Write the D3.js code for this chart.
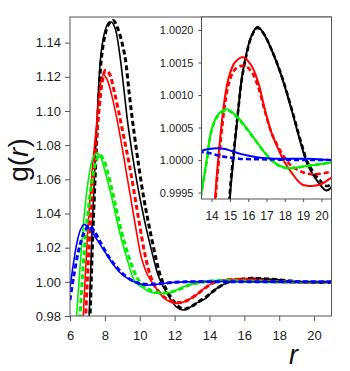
<!DOCTYPE html>
<html>
<head>
<meta charset="utf-8">
<script src="https://cdn.jsdelivr.net/npm/d3@7"></script>
<style>
  body { margin: 0; background: #fff; }
  text { font-family: Arial, "Liberation Sans", sans-serif; }
</style>
</head>
<body>
<div id="chart"></div>
<script>
// g(r) curves as [r, g] pairs
const blackSolid = [[6.9,0.930],[7.1,0.980],[7.25,1.025],[7.43,1.068],[7.54,1.092],[7.77,1.1326],[8.0,1.1465],[8.2,1.1515],[8.38,1.152],[8.6,1.148],[8.86,1.1326],[9.1,1.112],[9.33,1.0917],[9.71,1.066],[10.05,1.047],[10.38,1.031],[10.76,1.015],[11.05,1.004],[11.33,0.9975],[11.7,0.991],[12.1,0.9853],[12.48,0.9835],[12.9,0.9852],[13.3,0.9878],[13.81,0.9905],[14.2,0.9945],[14.57,0.9971],[15.01,0.99945],[15.19,1.0000],[15.46,1.00078],[15.64,1.00124],[15.91,1.00165],[16.18,1.00191],[16.51,1.00205],[16.81,1.00196],[17.27,1.0017],[17.82,1.00129],[18.36,1.00078],[18.91,1.00022],[19.27,0.99991],[19.82,0.99966],[20.27,0.99953],[20.55,0.99958],[21,0.9997]];
const blackDashed = [[6.95,0.930],[7.15,0.980],[7.3,1.025],[7.47,1.068],[7.58,1.092],[7.82,1.1326],[8.1,1.148],[8.3,1.152],[8.48,1.153],[8.75,1.148],[9.14,1.1326],[9.4,1.110],[9.62,1.0917],[9.94,1.068],[10.25,1.048],[10.55,1.032],[10.95,1.0128],[11.2,1.003],[11.45,0.997],[11.9,0.9893],[12.3,0.9850],[12.55,0.9840],[12.95,0.9855],[13.4,0.9885],[13.85,0.9915],[14.25,0.9948],[14.6,0.9973],[15.0,0.9995],[15.2,1.0001],[15.46,1.00078],[15.64,1.00122],[15.91,1.00162],[16.18,1.0019],[16.5,1.00203],[16.81,1.00196],[17.27,1.0017],[17.82,1.0013],[18.36,1.0008],[18.91,1.00025],[19.27,0.99995],[19.82,0.99972],[20.27,0.9996],[20.55,0.99963],[21,0.9997]];
const redSolid = [[6.55,0.930],[6.76,0.980],[7.0,1.027],[7.2,1.056],[7.33,1.072],[7.52,1.0917],[7.7,1.112],[7.9,1.1213],[8.1,1.119],[8.4,1.109],[8.76,1.0917],[9.2,1.066],[9.7,1.036],[10.0,1.0186],[10.13,1.0128],[10.45,1.004],[10.72,0.9995],[11.3,0.9915],[11.7,0.9885],[12.1,0.9874],[12.6,0.9885],[13.24,0.9923],[13.7,0.9962],[14.19,0.9994],[14.36,1.0000],[14.64,1.00078],[14.91,1.00124],[15.27,1.0015],[15.72,1.00158],[16.18,1.00145],[16.55,1.00119],[16.91,1.00078],[17.27,1.00042],[17.64,1.00017],[18.0,0.99996],[18.36,0.99981],[18.91,0.99963],[19.45,0.9996],[20.0,0.99963],[20.55,0.99973],[21,0.9998]];
const redDashed = [[6.7,0.930],[6.9,0.980],[7.1,1.022],[7.3,1.055],[7.5,1.082],[7.7,1.104],[7.85,1.117],[8.04,1.1239],[8.25,1.122],[8.55,1.111],[8.95,1.0917],[9.45,1.066],[9.95,1.036],[10.3,1.016],[10.6,1.004],[10.9,0.997],[11.4,0.9910],[11.8,0.9887],[12.2,0.9878],[12.7,0.9890],[13.3,0.9928],[13.75,0.9964],[14.22,0.9994],[14.4,1.0000],[14.68,1.00075],[14.95,1.00118],[15.3,1.0014],[15.8,1.00145],[16.2,1.00135],[16.55,1.00112],[16.91,1.00075],[17.27,1.00042],[17.64,1.0002],[18.0,1.00003],[18.36,0.99991],[18.91,0.99982],[19.45,0.99978],[20.0,0.99979],[20.55,0.99982],[21,0.99985]];
const greenSolid = [[6.2,0.950],[6.38,0.980],[6.55,1.005],[6.76,1.033],[7.05,1.0595],[7.3,1.0718],[7.56,1.0755],[7.8,1.072],[8.0,1.065],[8.29,1.0537],[8.6,1.040],[8.95,1.025],[9.3,1.0125],[9.71,1.0005],[10.1,0.9970],[10.57,0.9942],[11.0,0.9933],[11.33,0.9932],[11.8,0.9940],[12.2,0.9955],[12.67,0.9978],[13.1,0.9989],[13.45,0.9995],[13.73,1.0000],[14.0,1.00047],[14.36,1.0007],[14.82,1.00078],[15.27,1.0007],[15.82,1.00053],[16.36,1.00032],[16.91,1.00011],[17.45,0.99996],[18.0,0.99988],[18.55,0.99988],[19.27,0.99991],[20.0,0.99994],[20.55,0.99996],[21,0.99997]];
const greenDashed = [[6.35,0.950],[6.57,0.980],[6.75,1.008],[6.95,1.033],[7.25,1.058],[7.5,1.0705],[7.7,1.0745],[7.95,1.071],[8.2,1.0625],[8.5,1.050],[8.8,1.036],[9.14,1.0225],[9.5,1.011],[9.9,1.0015],[10.3,0.9970],[10.75,0.9945],[11.2,0.9935],[11.5,0.9935],[11.9,0.9943],[12.3,0.9958],[12.75,0.9978],[13.15,0.9990],[13.45,0.9995],[13.75,1.0000],[14.0,1.00045],[14.4,1.0007],[14.9,1.00076],[15.3,1.00068],[15.85,1.0005],[16.4,1.0003],[16.95,1.0001],[17.45,0.99995],[18.0,0.99988],[18.55,0.99988],[19.27,0.99991],[20.0,0.99994],[20.55,0.99996],[21,0.99997]];
const blueSolid = [[6.0,0.9965],[6.2,1.011],[6.4,1.023],[6.6,1.0305],[6.8,1.0336],[7.0,1.0325],[7.3,1.0285],[7.62,1.0235],[8.0,1.0175],[8.57,1.0090],[9.0,1.0042],[9.52,1.0008],[10.0,0.9988],[10.38,0.9981],[10.9,0.9984],[11.5,0.9992],[12.0,0.9997],[12.6,1.0000],[13.45,1.00014],[14.36,1.00018],[14.73,1.00017],[15.64,1.00009],[16.55,1.00004],[17.45,1.00002],[19.27,1.00002],[20.55,1.0000],[21,1.0000]];
const blueDashed = [[6.0,0.9894],[6.2,1.0025],[6.5,1.0185],[6.8,1.0285],[7.09,1.0330],[7.4,1.0295],[7.8,1.0220],[8.2,1.0150],[8.6,1.0095],[9.0,1.0050],[9.5,1.0012],[10.0,0.9990],[10.5,0.9985],[11.0,0.9988],[11.5,0.9993],[12.0,0.9997],[12.6,1.0000],[13.45,1.00012],[14.5,1.00006],[15.5,1.00002],[17,1.00001],[19,1.0000],[21,1.0000]];

const mainXTicks = [6, 8, 10, 12, 14, 16, 18, 20];
const mainYTicks = [0.98, 1.00, 1.02, 1.04, 1.06, 1.08, 1.10, 1.12, 1.14];
const insetXTicks = [14, 15, 16, 17, 18, 19, 20];
const insetYTicks = [0.9995, 1.0000, 1.0005, 1.0010, 1.0015, 1.0020];

const series = [
  { data: blackSolid, color: "#000000", dashed: false },
  { data: blackDashed, color: "#000000", dashed: true },
  { data: redSolid, color: "#ff0000", dashed: false },
  { data: redDashed, color: "#ff0000", dashed: true },
  { data: greenSolid, color: "#00f000", dashed: false },
  { data: greenDashed, color: "#00f000", dashed: true },
  { data: blueSolid, color: "#0000ff", dashed: false },
  { data: blueDashed, color: "#0000ff", dashed: true }
];

const width = 350, height = 371;
const main = { left: 70, right: 331.5, top: 17, bottom: 316 };
const inset = { left: 201.5, right: 331.5, top: 17, bottom: 199 };
const axisColor = "#555";

const svg = d3.select("#chart").append("svg")
  .attr("width", width)
  .attr("height", height);

const x = d3.scaleLinear().domain([6, 21]).range([main.left, main.right]);
const y = d3.scaleLinear().domain([0.98, 1.155]).range([main.bottom, main.top]);
const xi = d3.scaleLinear().domain([13.45, 20.55]).range([inset.left, inset.right]);
const yi = d3.scaleLinear().domain([0.9994, 1.0022]).range([inset.bottom, inset.top]);

const defs = svg.append("defs");
defs.append("clipPath").attr("id", "clipMain").append("rect")
  .attr("x", main.left).attr("y", main.top)
  .attr("width", main.right - main.left).attr("height", main.bottom - main.top);
defs.append("clipPath").attr("id", "clipInset").append("rect")
  .attr("x", inset.left).attr("y", inset.top)
  .attr("width", inset.right - inset.left).attr("height", inset.bottom - inset.top);

const styleAxis = (g, size) => {
  g.select(".domain").remove();
  g.selectAll(".tick line").attr("stroke", axisColor);
  g.selectAll(".tick text").attr("fill", "#222").attr("font-size", size)
    .attr("font-family", "Arial, 'Liberation Sans', sans-serif");
};

// main curves
const mainLine = d3.line().x(d => x(d[0])).y(d => y(d[1])).curve(d3.curveCatmullRom.alpha(0.5));
const gMain = svg.append("g").attr("clip-path", "url(#clipMain)");
series.forEach(s => {
  gMain.append("path")
    .datum(s.data)
    .attr("fill", "none")
    .attr("stroke", s.color)
    .attr("stroke-width", s.dashed ? 3 : 1.6)
    .attr("stroke-dasharray", s.dashed ? "5,3" : null)
    .attr("d", mainLine);
});

// main axes
svg.append("g")
  .attr("transform", `translate(0,${main.bottom})`)
  .call(d3.axisBottom(x).tickValues(mainXTicks).tickSize(5).tickPadding(10).tickFormat(d3.format("d")))
  .call(g => styleAxis(g, "13px"));
svg.append("g")
  .attr("transform", `translate(${main.left},0)`)
  .call(d3.axisLeft(y).tickValues(mainYTicks).tickSize(5).tickPadding(4).tickFormat(d3.format(".2f")))
  .call(g => styleAxis(g, "13px"));

svg.append("rect")
  .attr("x", main.left).attr("y", main.top)
  .attr("width", main.right - main.left).attr("height", main.bottom - main.top)
  .attr("fill", "none").attr("stroke", axisColor).attr("stroke-width", 1);

// inset
svg.append("rect")
  .attr("x", inset.left).attr("y", inset.top)
  .attr("width", inset.right - inset.left).attr("height", inset.bottom - inset.top)
  .attr("fill", "#fff");

const insetLine = d3.line().x(d => xi(d[0])).y(d => yi(d[1])).curve(d3.curveCatmullRom.alpha(0.5));
const gInset = svg.append("g").attr("clip-path", "url(#clipInset)");
series.forEach(s => {
  gInset.append("path")
    .datum(s.data)
    .attr("fill", "none")
    .attr("stroke", s.color)
    .attr("stroke-width", s.dashed ? 2.6 : 2)
    .attr("stroke-dasharray", s.dashed ? "5,3" : null)
    .attr("d", insetLine);
});

svg.append("g")
  .attr("transform", `translate(0,${inset.bottom})`)
  .call(d3.axisBottom(xi).tickValues(insetXTicks).tickSize(3).tickPadding(9).tickFormat(d3.format("d")))
  .call(g => styleAxis(g, "12px"));
svg.append("g")
  .attr("transform", `translate(${inset.left},0)`)
  .call(d3.axisLeft(yi).tickValues(insetYTicks).tickSize(3).tickPadding(5).tickFormat(d3.format(".4f")))
  .call(g => styleAxis(g, "11px"));

svg.append("rect")
  .attr("x", inset.left).attr("y", inset.top)
  .attr("width", inset.right - inset.left).attr("height", inset.bottom - inset.top)
  .attr("fill", "none").attr("stroke", axisColor).attr("stroke-width", 1);

// axis titles
const yTitle = svg.append("text")
  .attr("transform", "translate(28,160) rotate(-90)")
  .attr("text-anchor", "middle")
  .attr("font-size", "28px")
  .attr("fill", "#111");
yTitle.append("tspan").text("g(");
yTitle.append("tspan").attr("font-style", "italic").text("r");
yTitle.append("tspan").text(")");

svg.append("text")
  .attr("x", 289)
  .attr("y", 364)
  .attr("text-anchor", "start")
  .attr("font-size", "27px")
  .attr("font-style", "italic")
  .attr("fill", "#111")
  .text("r");
</script>
</body>
</html>
